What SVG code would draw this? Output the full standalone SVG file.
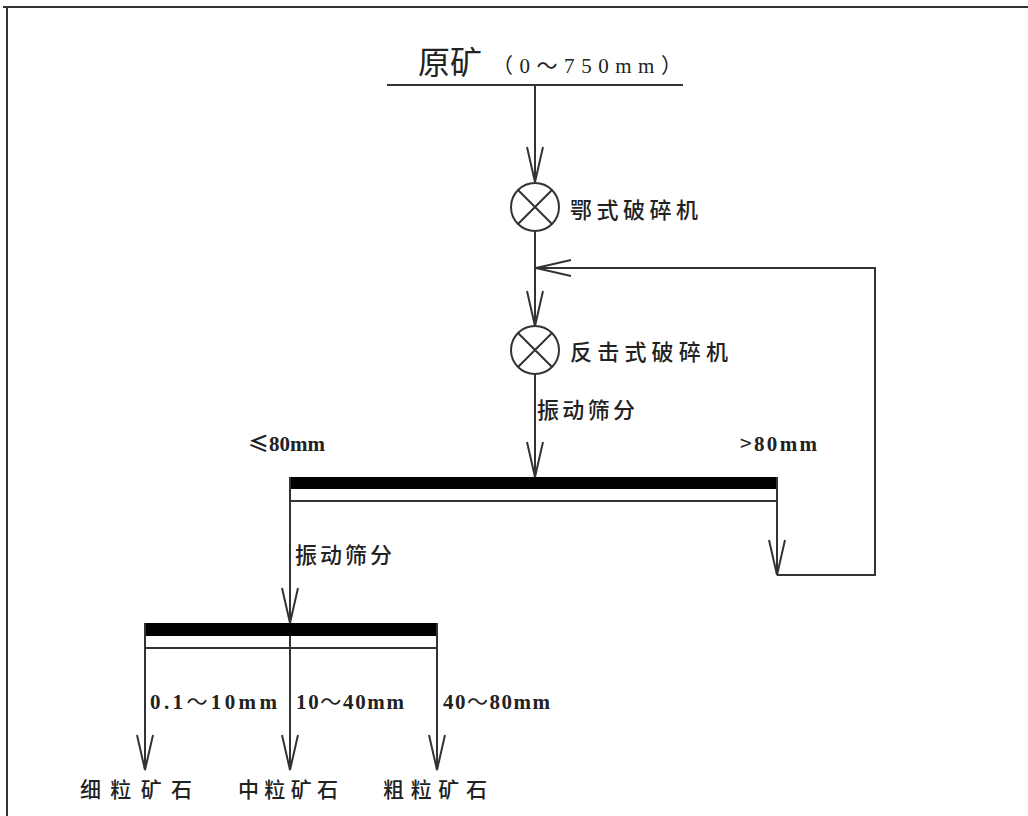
<svg xmlns="http://www.w3.org/2000/svg" width="1028" height="816" viewBox="0 0 1028 816">
<defs>
<style>
.ln{stroke:#333;stroke-width:2;fill:none}
.cn{stroke:#333;stroke-width:2;fill:none;marker-end:url(#av)}
.cj{font-family:"Noto Sans CJK SC","Noto Sans CJK JP",sans-serif;fill:#222;font-weight:500}
.lt{font-family:"Liberation Serif","Noto Sans CJK SC",serif;fill:#222;font-weight:bold}
.sym{font-family:"Noto Sans CJK SC",sans-serif;font-weight:normal}
.bar{fill:#000}
</style>
<marker id="av" markerUnits="userSpaceOnUse" viewBox="-38 -10 40 20" refX="0" refY="0" markerWidth="40" markerHeight="20" orient="auto">
<path d="M-35,-8 L0,0 L-35,8" fill="none" stroke="#333" stroke-width="2"/>
</marker>
</defs>
<rect width="1028" height="816" fill="#fff"/>
<g id="frame">
<path class="ln" d="M3,7 H1028 M7,7 V816" stroke-width="2.5"/>
</g>
<g id="raw-ore">
<text class="cj" x="418" y="74" font-size="32" style="font-weight:normal">原矿</text>
<text class="lt" x="492" y="73" font-size="21" style="font-weight:normal" textLength="190" lengthAdjust="spacing"><tspan class="sym">（</tspan>0<tspan class="sym">～</tspan>750mm<tspan class="sym">）</tspan></text>
<path class="ln" d="M387,85 H683"/>
</g>
<g id="jaw-crusher">
<circle class="ln" cx="535" cy="207" r="24"/>
<path class="ln" d="M518,190 L552,224 M552,190 L518,224"/>
<text class="cj" x="570" y="218" font-size="22" textLength="128" lengthAdjust="spacing">鄂式破碎机</text>
</g>
<g id="impact-crusher">
<circle class="ln" cx="535" cy="350" r="24"/>
<path class="ln" d="M518,333 L552,367 M552,333 L518,367"/>
<text class="cj" x="570" y="360" font-size="22" textLength="158" lengthAdjust="spacing">反击式破碎机</text>
<text class="cj" x="537" y="418" font-size="22" textLength="98" lengthAdjust="spacing">振动筛分</text>
</g>
<g id="screen-1">
<rect class="bar" x="290" y="477" width="487" height="12"/>
<path class="ln" d="M290,501 H777 M290,477 V501 M777,477 V501"/>
<text class="lt" x="248" y="451" font-size="21" textLength="77" lengthAdjust="spacing"><tspan class="sym" style="font-weight:bold">≤</tspan>80mm</text>
<text class="lt" x="740" y="451" font-size="21" textLength="77" lengthAdjust="spacing"><tspan class="sym">&gt;</tspan>80mm</text>
<text class="cj" x="295" y="563" font-size="22" textLength="97" lengthAdjust="spacing">振动筛分</text>
</g>
<g id="screen-2">
<rect class="bar" x="145" y="623" width="292" height="13"/>
<path class="ln" d="M145,648 H437 M145,623 V648 M437,623 V648"/>
<text class="lt" x="150" y="709" font-size="21" textLength="127" lengthAdjust="spacing">0.1<tspan class="sym">～</tspan>10mm</text>
<text class="lt" x="296" y="709" font-size="21" textLength="108" lengthAdjust="spacing">10<tspan class="sym">～</tspan>40mm</text>
<text class="lt" x="443" y="709" font-size="21" textLength="107" lengthAdjust="spacing">40<tspan class="sym">～</tspan>80mm</text>
</g>
<g id="fine-ore"><text class="cj" x="80" y="797" font-size="21" textLength="112" lengthAdjust="spacing">细粒矿石</text></g>
<g id="medium-ore"><text class="cj" x="238" y="797" font-size="21" textLength="100" lengthAdjust="spacing">中粒矿石</text></g>
<g id="coarse-ore"><text class="cj" x="383" y="797" font-size="21" textLength="104" lengthAdjust="spacing">粗粒矿石</text></g>
<g id="connectors">
<path class="cn" d="M535,85 V182"/>
<path class="cn" d="M535,231 V326"/>
<path class="cn" d="M535,374 V477"/>
<path class="cn" d="M777,501 V575"/>
<path class="cn" d="M777,575 H875 V268 H536"/>
<path class="cn" d="M290,501 V623"/>
<path class="cn" d="M145,648 V770"/>
<path class="cn" d="M290,636 V770"/>
<path class="cn" d="M437,648 V770"/>
</g>
</svg>
